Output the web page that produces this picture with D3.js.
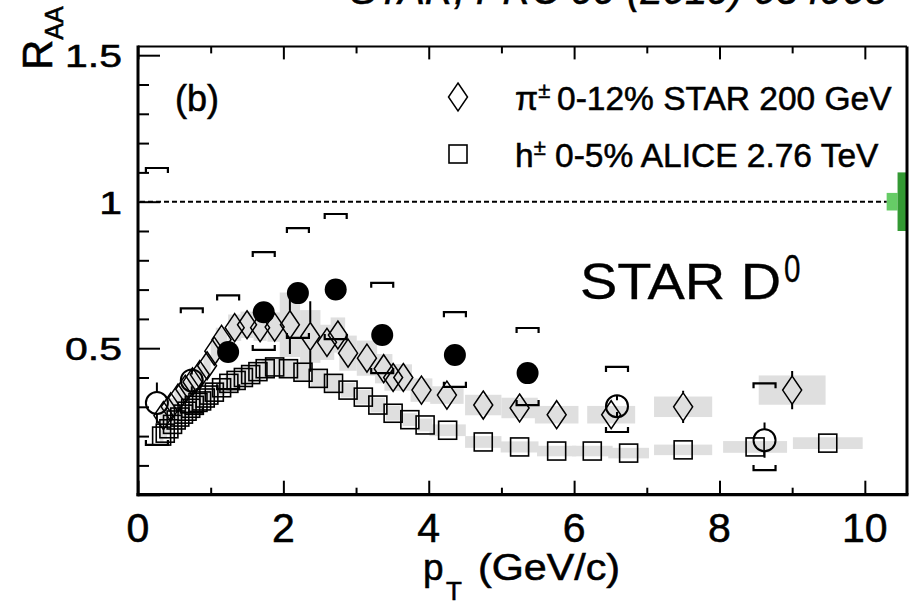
<!DOCTYPE html>
<html><head><meta charset="utf-8">
<script src="https://cdn.jsdelivr.net/npm/d3@7"></script>
<style>
body{margin:0;background:#fff}
svg{display:block}
text{font-family:"Liberation Sans",Arial,Helvetica,sans-serif;fill:#000;stroke:#000;stroke-width:0.55px}
</style>
</head><body>
<svg id="c" width="914" height="605"></svg>
<script>
// ---------- data ----------
const xTicksMajor = [0, 2, 4, 6, 8, 10];
const xTicksMinor = [1, 3, 5, 7, 9];
const xTickLabels = ["0", "2", "4", "6", "8", "10"];
const yTicksMajor = [0, 0.5, 1, 1.5];
const yTicksMinor = [0.1, 0.2, 0.3, 0.4, 0.6, 0.7, 0.8, 0.9, 1.1, 1.2, 1.3, 1.4];
const yTickValues = [0.5, 1, 1.5];
const yTickLabels = ["0.5", "1", "1.5"];

// STAR pi+- 0-12% 200 GeV (open diamonds)
const pionPt   = [0.35,0.45,0.55,0.65,0.75,0.85,0.95,1.05,1.15,1.33,1.5,1.68,1.88,2.09,2.37,2.6,2.75,2.89,3.15,3.38,3.51,3.65,3.9,4.25,4.75,5.25,5.76,6.51,7.5,9.0];
const pionRaa  = [0.27,0.30,0.33,0.36,0.385,0.41,0.44,0.49,0.53,0.57,0.58,0.57,0.572,0.58,0.54,0.52,0.545,0.483,0.466,0.43,0.40,0.40,0.357,0.34,0.306,0.296,0.273,0.273,0.30,0.357];
const pionStat = [0,0,0,0,0,0,0,0,0,0,0,0,0,0.10,0.12,0,0,0,0,0,0,0,0,0,0,0,0,0,0.055,0.065];
const pionSys  = [0.03,0.03,0.03,0.03,0.03,0.035,0.035,0.04,0.04,0.045,0.045,0.045,0.05,0.11,0.09,0.06,0.06,0.06,0.06,0.05,0.045,0.045,0.04,0.03,0.035,0.035,0.03,0.03,0.035,0.05];
const pionBinHalf = [0.05,0.05,0.05,0.05,0.05,0.05,0.05,0.05,0.08,0.09,0.09,0.09,0.1,0.14,0.14,0.1,0.1,0.12,0.14,0.12,0.12,0.12,0.15,0.23,0.25,0.25,0.3,0.33,0.4,0.46];

// ALICE h+- 0-5% 2.76 TeV (open squares)
const alicePt  = [0.325,0.375,0.425,0.475,0.525,0.575,0.625,0.675,0.725,0.775,0.825,0.875,0.925,0.975,1.05,1.15,1.25,1.35,1.45,1.55,1.65,1.75,1.88,2.07,2.27,2.48,2.69,2.89,3.1,3.3,3.51,3.74,3.95,4.26,4.75,5.25,5.76,6.25,6.75,7.5,8.49,9.49];
const aliceRaa = [0.20,0.21,0.225,0.24,0.255,0.265,0.275,0.285,0.295,0.305,0.315,0.32,0.33,0.34,0.35,0.365,0.38,0.39,0.40,0.41,0.42,0.43,0.436,0.43,0.418,0.397,0.38,0.357,0.333,0.306,0.278,0.256,0.238,0.22,0.18,0.163,0.149,0.149,0.142,0.153,0.163,0.176];
const aliceSys = [0.02,0.02,0.02,0.02,0.02,0.02,0.02,0.02,0.02,0.02,0.02,0.025,0.025,0.025,0.025,0.025,0.025,0.025,0.03,0.03,0.03,0.03,0.03,0.03,0.03,0.03,0.03,0.025,0.025,0.025,0.025,0.022,0.022,0.02,0.02,0.019,0.018,0.018,0.018,0.018,0.02,0.02];
const aliceBinHalf = [0.025,0.025,0.025,0.025,0.025,0.025,0.025,0.025,0.025,0.025,0.025,0.025,0.025,0.025,0.05,0.05,0.05,0.05,0.05,0.05,0.05,0.05,0.08,0.1,0.1,0.1,0.1,0.1,0.1,0.1,0.1,0.1,0.1,0.25,0.25,0.26,0.27,0.28,0.28,0.4,0.44,0.48];

// STAR D0 (filled circles)
const d0Pt      = [1.24,1.73,2.2,2.72,3.36,4.36,5.36];
const d0Raa     = [0.487,0.623,0.688,0.70,0.545,0.477,0.415];
const d0SysHigh = [0.68,0.828,0.91,0.958,0.723,0.623,0.569];
const d0SysLow  = [0.36,0.494,0.535,0.531,0.415,0.368,0.306];

// STAR D0 (open circles)
const d0oPt      = [0.26,0.74,6.59,8.62];
const d0oRaa     = [0.313,0.39,0.302,0.186];
const d0oStat    = [0.07,0.02,0.02,0.06];
const d0oSysHigh = [1.115,0.636,0.436,0.38];
const d0oSysLow  = [0.17,0.28,0.214,0.084];

// normalisation uncertainties at unity
const normLight = [0.97, 1.03];
const normDark  = [0.9, 1.1];

// ---------- drawing ----------
const svg = d3.select("#c");
const x = d3.scaleLinear().domain([0, 10.58]).range([138, 907]);
const y = d3.scaleLinear().domain([0, 1.53]).range([494.7, 46.4]);
const GRAY = "#dfdfdf";

// systematic boxes
const pion = pionPt.map((p,i)=>({p, v:pionRaa[i], s:pionSys[i], w:pionBinHalf[i], e:pionStat[i]}));
const alice = alicePt.map((p,i)=>({p, v:aliceRaa[i], s:aliceSys[i], w:aliceBinHalf[i]}));
const boxes = svg.append("g");
boxes.selectAll("rect.a").data(alice).join("rect").attr("class","a")
  .attr("x", d=>x(d.p-d.w)).attr("width", d=>x(d.p+d.w)-x(d.p-d.w))
  .attr("y", d=>y(d.v+d.s)).attr("height", d=>y(d.v-d.s)-y(d.v+d.s))
  .attr("fill", GRAY);
boxes.selectAll("rect.p").data(pion).join("rect").attr("class","p")
  .attr("x", d=>x(d.p-d.w)).attr("width", d=>x(d.p+d.w)-x(d.p-d.w))
  .attr("y", d=>y(d.v+d.s)).attr("height", d=>y(d.v-d.s)-y(d.v+d.s))
  .attr("fill", GRAY);

// normalisation boxes
svg.append("rect").attr("x", x(10.3)).attr("width", x(10.45)-x(10.3))
  .attr("y", y(normLight[1])).attr("height", y(normLight[0])-y(normLight[1])).attr("fill","#66cc66");
svg.append("rect").attr("x", x(10.45)).attr("width", x(10.58)-x(10.45))
  .attr("y", y(normDark[1])).attr("height", y(normDark[0])-y(normDark[1])).attr("fill","#339933");

// unity line
svg.append("line").attr("x1", x(0)+2).attr("x2", x(10.3)).attr("y1", y(1)).attr("y2", y(1))
  .attr("stroke","#000").attr("stroke-width",2).attr("stroke-dasharray","5,3");

// ALICE squares
const SQ = 18;
svg.append("g").selectAll("rect").data(alice).join("rect")
  .attr("x", d=>x(d.p)-SQ/2).attr("y", d=>y(d.v)-SQ/2).attr("width",SQ).attr("height",SQ)
  .attr("fill","none").attr("stroke","#000").attr("stroke-width",1.6);

// pion diamonds
const DW = 9.5, DH = 14;
svg.append("g").selectAll("path").data(pion).join("path")
  .attr("d", d=>`M${x(d.p)},${y(d.v)-DH}L${x(d.p)+DW},${y(d.v)}L${x(d.p)},${y(d.v)+DH}L${x(d.p)-DW},${y(d.v)}Z`)
  .attr("fill","none").attr("stroke","#000").attr("stroke-width",1.5);
svg.append("g").selectAll("path").data(pion.filter(d=>d.e>0)).join("path")
  .attr("d", d=>`M${x(d.p)},${y(d.v+d.e)}V${y(d.v)-DH}M${x(d.p)},${y(d.v)+DH}V${y(d.v-d.e)}`)
  .attr("stroke","#000").attr("stroke-width",2);

// D0 brackets
function brackets(g, pts, hi, lo){
  const BW = 11, BL = 5;
  g.selectAll("path.hi").data(pts).join("path").attr("class","hi")
    .attr("d",(p,i)=>`M${x(p)-BW},${y(hi[i])+BL}V${y(hi[i])}H${x(p)+BW}V${y(hi[i])+BL}`)
    .attr("fill","none").attr("stroke","#000").attr("stroke-width",2.2);
  g.selectAll("path.lo").data(pts).join("path").attr("class","lo")
    .attr("d",(p,i)=>`M${x(p)-BW},${y(lo[i])-BL}V${y(lo[i])}H${x(p)+BW}V${y(lo[i])-BL}`)
    .attr("fill","none").attr("stroke","#000").attr("stroke-width",2.2);
}
brackets(svg.append("g"), d0Pt, d0SysHigh, d0SysLow);
brackets(svg.append("g"), d0oPt, d0oSysHigh, d0oSysLow);

// D0 open circles
const R = 11;
svg.append("g").selectAll("path").data(d0oPt).join("path")
  .attr("d",(p,i)=>`M${x(p)},${y(d0oRaa[i]+d0oStat[i])}V${y(d0oRaa[i])-R}M${x(p)},${y(d0oRaa[i])+R}V${y(d0oRaa[i]-d0oStat[i])}`)
  .attr("stroke","#000").attr("stroke-width",2);
svg.append("g").selectAll("circle").data(d0oPt).join("circle")
  .attr("cx", p=>x(p)).attr("cy",(p,i)=>y(d0oRaa[i])).attr("r",R)
  .attr("fill","none").attr("stroke","#000").attr("stroke-width",2);

// D0 filled circles
svg.append("g").selectAll("circle").data(d0Pt).join("circle")
  .attr("cx", p=>x(p)).attr("cy",(p,i)=>y(d0Raa[i])).attr("r",R).attr("fill","#000");

// ---------- axes ----------
function tickAxis(axis, tr, size){
  const g = svg.append("g").attr("transform", tr).call(axis.tickSize(size).tickFormat(""));
  g.select(".domain").remove();
  g.selectAll(".tick line").attr("stroke","#000").attr("stroke-width",2);
}
tickAxis(d3.axisBottom(x).tickValues(xTicksMajor), `translate(0,${y(0)})`, -14);
tickAxis(d3.axisBottom(x).tickValues(xTicksMinor), `translate(0,${y(0)})`, -7);
tickAxis(d3.axisTop(x).tickValues(xTicksMajor), `translate(0,${y(1.53)})`, -13);
tickAxis(d3.axisTop(x).tickValues(xTicksMinor), `translate(0,${y(1.53)})`, -7);
tickAxis(d3.axisLeft(y).tickValues(yTicksMajor), `translate(${x(0)},0)`, -22);
tickAxis(d3.axisLeft(y).tickValues(yTicksMinor), `translate(${x(0)},0)`, -11);

// frame
svg.append("line").attr("x1",x(0)).attr("x2",x(10.58)).attr("y1",y(1.53)).attr("y2",y(1.53)).attr("stroke","#000").attr("stroke-width",2);
svg.append("line").attr("x1",x(10.58)).attr("x2",x(10.58)).attr("y1",y(1.53)).attr("y2",y(0)).attr("stroke","#000").attr("stroke-width",3);
svg.append("line").attr("x1",x(0)).attr("x2",x(0)).attr("y1",y(1.53)-1).attr("y2",y(0)+1.5).attr("stroke","#000").attr("stroke-width",3);
svg.append("line").attr("x1",x(0)-1.5).attr("x2",x(10.58)+1.5).attr("y1",y(0)).attr("y2",y(0)).attr("stroke","#000").attr("stroke-width",3.2);

// tick labels
svg.append("g").selectAll("text").data(xTicksMajor).join("text")
  .attr("x", v=>x(v)).attr("y", 542).attr("text-anchor","middle")
  .attr("font-size", 41).text((v,i)=>xTickLabels[i]);
svg.append("g").selectAll("text").data(yTickValues).join("text")
  .attr("transform", v=>`translate(122,${y(v)+12}) scale(1.28,1)`)
  .attr("text-anchor","end").attr("font-size", 32).text((v,i)=>yTickLabels[i]);

// axis titles
const yt = svg.append("text").attr("transform","translate(52,70) rotate(-90)").attr("font-size",42);
yt.append("tspan").text("R");
yt.append("tspan").attr("font-size",25).attr("dy",11).text("AA");

svg.append("text").attr("x",423).attr("y",580).attr("font-size",37).text("p");
svg.append("text").attr("x",446).attr("y",600).attr("font-size",26).text("T");
svg.append("text").attr("x",478).attr("y",580).attr("font-size",37)
  .attr("textLength",142).attr("lengthAdjust","spacingAndGlyphs").text("(GeV/c)");

// title (cut at top, as in the reference)
svg.append("text").attr("x",350).attr("y",4).attr("font-size",40).attr("font-style","italic")
  .text("STAR, PRC 99 (2019) 034908");

// (b)
svg.append("text").attr("x",175).attr("y",111).attr("font-size",36).text("(b)");

// legend
svg.append("path").attr("d",`M458,${97-DH}L${458+DW},97L458,${97+DH}L${458-DW},97Z`)
  .attr("fill","none").attr("stroke","#000").attr("stroke-width",1.5);
svg.append("rect").attr("x",458-SQ/2).attr("y",154-SQ/2).attr("width",SQ).attr("height",SQ)
  .attr("fill","none").attr("stroke","#000").attr("stroke-width",1.6);
const l1 = svg.append("text").attr("x",515).attr("y",110).attr("font-size",33.5);
l1.append("tspan").text("π");
l1.append("tspan").attr("font-size",22).attr("dy",-12).text("±");
l1.append("tspan").attr("dy",12).attr("x",557).text("0-12% STAR 200 GeV");
const l2 = svg.append("text").attr("x",515).attr("y",167).attr("font-size",33.5);
l2.append("tspan").text("h");
l2.append("tspan").attr("font-size",22).attr("dy",-12).text("±");
l2.append("tspan").attr("dy",12).attr("x",555).text("0-5% ALICE 2.76 TeV");

// STAR D0 label
svg.append("text").attr("transform","translate(580,299) scale(1.12,1)").attr("font-size",50).style("stroke-width","0.3px").text("STAR D");
svg.append("text").attr("transform","translate(784,282) scale(0.78,1)").attr("font-size",38).style("stroke-width","0.3px").text("0");
</script>
</body></html>
